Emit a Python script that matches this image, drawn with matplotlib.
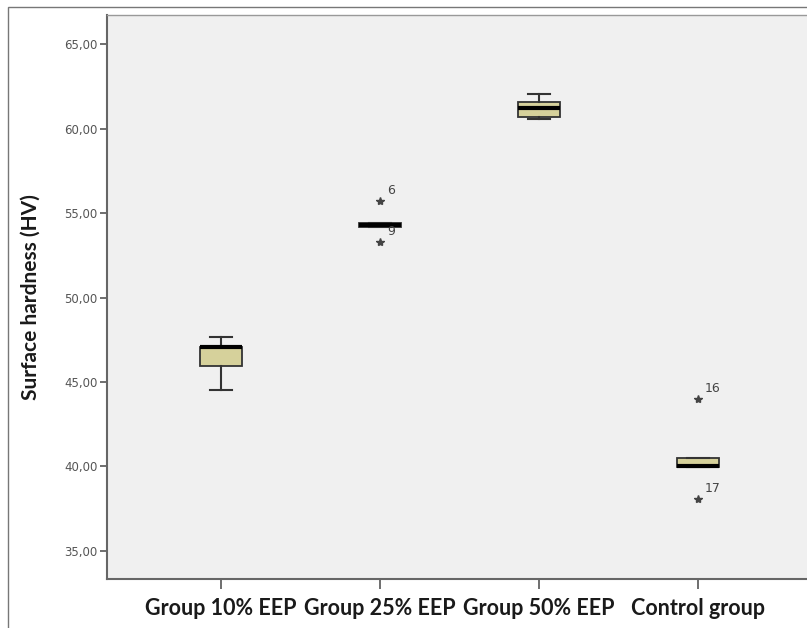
import matplotlib.pyplot as plt
from matplotlib.patches import Rectangle

# dados
grupos = ['Group 10% EEP', 'Group 25% EEP', 'Group 50% EEP', 'Control group']
medianas = [47.1, 54.3, 61.2, 40.0]
q1 = [45.95, 54.15, 60.7, 39.95]
q3 = [47.1, 54.4, 61.6, 40.5]
whisk_min = [44.5, 54.15, 60.55, 39.95]
whisk_max = [47.65, 54.4, 62.05, 40.5]
outliers = [[], [55.7, 53.3], [], [44.0, 38.1]]
outlier_ids = [[], ['6', '9'], [], ['16', '17']]
yticks = [35, 40, 45, 50, 55, 60, 65]

stats = []
for i in range(len(grupos)):
    stats.append(dict(med=medianas[i], q1=q1[i], q3=q3[i],
                      whislo=whisk_min[i], whishi=whisk_max[i],
                      fliers=outliers[i], label=grupos[i]))

fig = plt.figure(figsize=(8.07, 6.28), dpi=100)
ax = fig.add_axes([0.1326, 0.078, 0.8674, 0.898])
ax.set_facecolor('#f0f0f0')

pos = [1, 2, 3, 4]
ax.bxp(stats, positions=pos, widths=0.26, patch_artist=True, capwidths=0.14,
       boxprops=dict(facecolor='#d6d19b', edgecolor='#333333', linewidth=1.3),
       medianprops=dict(color='black', linewidth=3),
       whiskerprops=dict(color='#333333', linewidth=1.5),
       capprops=dict(color='#333333', linewidth=1.5),
       flierprops=dict(marker='*', markerfacecolor='#444444', markeredgecolor='#444444',
                       markersize=6, linestyle='none'))

# numeros dos outliers
for i in range(len(grupos)):
    for v, t in zip(outliers[i], outlier_ids[i]):
        ax.annotate(t, (pos[i], v), xytext=(5, 5), textcoords='offset points',
                    fontsize=9, color='#444444')

ax.set_xlim(0.283, 4.686)
ax.set_ylim(33.34, 66.72)
ax.set_yticks(yticks)
ax.set_yticklabels([f'{y:.2f}'.replace('.', ',') for y in yticks],
                   fontsize=8.5, color='#555555')
ax.set_xticks(pos)
ax.set_xticklabels(grupos, fontsize=15.5, fontweight='bold', family='Lato',
                   color='#1a1a1a')
ax.tick_params(axis='x', length=7, width=1.2, color='#555555', pad=7)
ax.tick_params(axis='y', length=5, width=1.2, color='#555555', pad=2)
ax.set_ylabel('Surface hardness (HV)', fontsize=15, fontweight='bold',
              family='Lato', color='#1a1a1a', labelpad=17)

for s in ['left', 'bottom', 'top']:
    ax.spines[s].set_color('#666666')
    ax.spines[s].set_linewidth(1.5)
ax.spines['top'].set_color('#999999')
ax.spines['top'].set_linewidth(1.0)
ax.spines['right'].set_visible(False)

# moldura externa da figura
fig.add_artist(Rectangle((8 / 807, -0.01), 1.0, 1 - 7 / 628 + 0.01,
                         transform=fig.transFigure, fill=False,
                         edgecolor='#777777', linewidth=1.0))

fig.savefig('out.png', dpi=100)
